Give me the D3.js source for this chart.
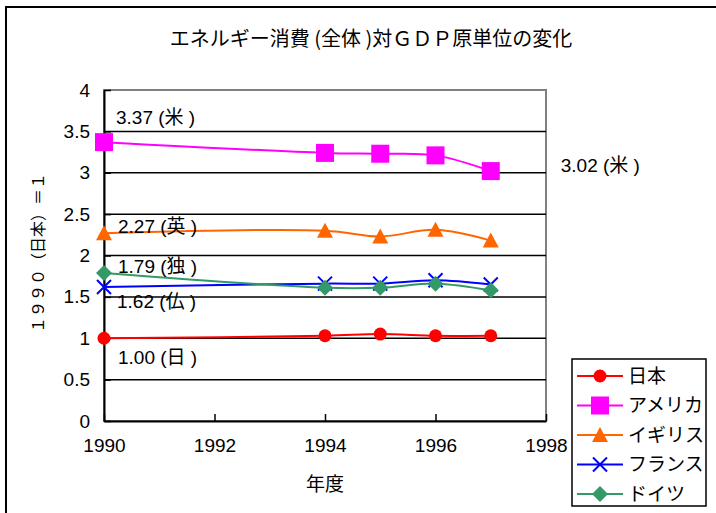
<!DOCTYPE html>
<html><head><meta charset="utf-8">
<script src="https://cdn.jsdelivr.net/npm/d3@7"></script>
<style>body{margin:0;background:#fff}svg{display:block}</style>
</head><body>
<script>
const years = [1990, 1994, 1995, 1996, 1997];
const japan = [1.00, 1.03, 1.05, 1.03, 1.03];
const usa = [3.37, 3.24, 3.23, 3.21, 3.02];
const uk = [2.27, 2.30, 2.23, 2.31, 2.18];
const france = [1.62, 1.66, 1.66, 1.70, 1.65];
const germany = [1.79, 1.61, 1.61, 1.66, 1.58];
const seriesNames = ["日本", "アメリカ", "イギリス", "フランス", "ドイツ"];
const xTicks = [1990, 1992, 1994, 1996, 1998];
const yTicks = [0, 0.5, 1, 1.5, 2, 2.5, 3, 3.5, 4];
const annotations = [
  {text: "3.37 (米 )", year: 1990, value: 3.37},
  {text: "3.02 (米 )", year: 1997, value: 3.02},
  {text: "2.27 (英 )", year: 1990, value: 2.27},
  {text: "1.79 (独 )", year: 1990, value: 1.79},
  {text: "1.62 (仏 )", year: 1990, value: 1.62},
  {text: "1.00 (日 )", year: 1990, value: 1.00}
];
const titleText = "エネルギー消費 (全体 )対ＧＤＰ原単位の変化";
const yTitle = "１９９０（日本）＝１";
const xTitle = "年度";

const W = 716, H = 513;
const L = 104, R = 546, T = 90, B = 421;
const font = "'Liberation Sans', Arial, 'Noto Sans CJK JP', sans-serif";
const cjk = "'Noto Sans CJK JP', sans-serif";

const svg = d3.select("body").append("svg").attr("width", W).attr("height", H);
svg.append("rect").attr("x", 6).attr("y", 7).attr("width", 730).attr("height", 530)
  .attr("fill", "none").attr("stroke", "#000").attr("stroke-width", 2);

const x = d3.scaleLinear().domain([1990, 1998]).range([L, R]);
const y = d3.scaleLinear().domain([0, 4]).range([B, T]);

// plot area border
svg.append("rect").attr("x", L).attr("y", T).attr("width", R - L).attr("height", B - T)
  .attr("fill", "none").attr("stroke", "#808080").attr("stroke-width", 2);

// gridlines
svg.append("g").selectAll("line").data(yTicks.filter(d => d > 0 && d < 4)).join("line")
  .attr("x1", L).attr("x2", R).attr("y1", d => y(d)).attr("y2", d => y(d))
  .attr("stroke", "#000").attr("stroke-width", 1.5);

// axes
const yAxis = svg.append("g").attr("transform", `translate(${L},0)`)
  .call(d3.axisLeft(y).tickValues(yTicks).tickSizeInner(-7).tickSizeOuter(0).tickPadding(14)
    .tickFormat(d => String(d)));
yAxis.select(".domain").attr("stroke", "#000").attr("stroke-width", 2);
yAxis.selectAll(".tick line").attr("stroke", "#000").attr("stroke-width", 1.5);
yAxis.selectAll("text").attr("font-family", font).attr("font-size", 19).attr("fill", "#000");

const xAxis = svg.append("g").attr("transform", `translate(0,${B})`)
  .call(d3.axisBottom(x).tickValues(xTicks).tickSizeInner(-7).tickSizeOuter(0).tickPadding(18)
    .tickFormat(d3.format("d")));
xAxis.select(".domain").attr("stroke", "#000").attr("stroke-width", 2);
xAxis.selectAll(".tick line").attr("stroke", "#000").attr("stroke-width", 1.5);
xAxis.selectAll("text").attr("font-family", font).attr("font-size", 19).attr("fill", "#000");

// series
const colors = ["#FF0000", "#FF00FF", "#FF6600", "#0000FF", "#339966"];
const shapes = ["circle", "square", "triangle", "x", "diamond"];
const allValues = [japan, usa, uk, france, germany];
const line = d3.line().x(d => x(d[0])).y(d => y(d[1])).curve(d3.curveCatmullRom.alpha(0.5));

function drawMarker(g, shape, color, cx, cy) {
  if (shape === "circle") g.append("circle").attr("cx", cx).attr("cy", cy).attr("r", 6.5).attr("fill", color);
  else if (shape === "square") g.append("rect").attr("x", cx - 9).attr("y", cy - 9).attr("width", 18).attr("height", 18).attr("fill", color);
  else if (shape === "triangle") g.append("path").attr("d", `M${cx},${cy-8}L${cx+8},${cy+7}L${cx-8},${cy+7}Z`).attr("fill", color);
  else if (shape === "diamond") g.append("path").attr("d", `M${cx},${cy-8}L${cx+8},${cy}L${cx},${cy+8}L${cx-8},${cy}Z`).attr("fill", color);
  else if (shape === "x") g.append("path").attr("d", `M${cx-7},${cy-7}L${cx+7},${cy+7}M${cx-7},${cy+7}L${cx+7},${cy-7}`)
    .attr("stroke", color).attr("stroke-width", 2).attr("fill", "none");
}

allValues.forEach((vals, i) => {
  const pts = years.map((yr, j) => [yr, vals[j]]);
  const g = svg.append("g");
  g.append("path").attr("d", line(pts)).attr("fill", "none").attr("stroke", colors[i]).attr("stroke-width", 2);
  pts.forEach(p => drawMarker(g, shapes[i], colors[i], x(p[0]), y(p[1])));
});

// annotations
const annOffsets = [[12, -18], [70, 1], [14, 0], [14, 0], [13, 21], [14, 26]];
svg.append("g").selectAll("text").data(annotations).join("text")
  .attr("x", (d, i) => x(d.year) + annOffsets[i][0])
  .attr("y", (d, i) => y(d.value) + annOffsets[i][1])
  .attr("font-family", font).attr("font-size", 19).attr("fill", "#000")
  .text(d => d.text);

// titles
svg.append("text").attr("x", 371).attr("y", 46).attr("text-anchor", "middle")
  .attr("font-family", cjk).attr("font-size", 20).attr("fill", "#000").text(titleText);
svg.append("text").attr("transform", "translate(44,253) rotate(-90)").attr("text-anchor", "middle")
  .attr("font-family", cjk).attr("font-size", 16).attr("fill", "#000").text(yTitle);
svg.append("text").attr("x", x(1994)).attr("y", 491).attr("text-anchor", "middle")
  .attr("font-family", cjk).attr("font-size", 19).attr("fill", "#000").text(xTitle);

// legend
const lg = svg.append("g");
lg.append("rect").attr("x", 572).attr("y", 359).attr("width", 134).attr("height", 147)
  .attr("fill", "#fff").attr("stroke", "#000").attr("stroke-width", 1.5);
seriesNames.forEach((name, i) => {
  const cy = 376 + i * 29.5;
  lg.append("line").attr("x1", 577).attr("x2", 623).attr("y1", cy).attr("y2", cy)
    .attr("stroke", colors[i]).attr("stroke-width", 2);
  drawMarker(lg, shapes[i], colors[i], 600, cy);
  lg.append("text").attr("x", 628).attr("y", cy).attr("dy", "0.36em")
    .attr("font-family", cjk).attr("font-size", 19).attr("fill", "#000").text(name);
});
</script>
</body></html>
